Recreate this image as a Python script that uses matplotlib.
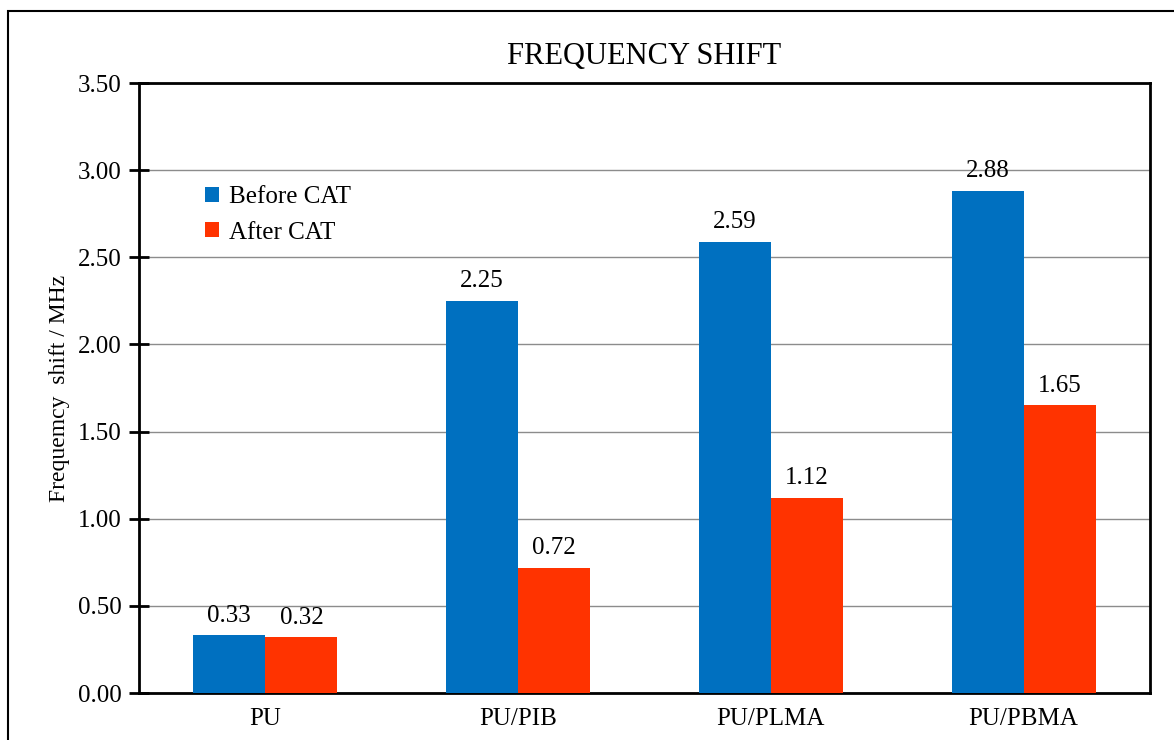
import matplotlib
matplotlib.use("Agg")
import matplotlib.pyplot as plt
from matplotlib.patches import Rectangle, Patch
import numpy as np

plt.rcParams['font.family'] = ['Liberation Serif', 'DejaVu Serif']

categories = ["PU", "PU/PIB", "PU/PLMA", "PU/PBMA"]
before_cat = [0.33, 2.25, 2.59, 2.88]
after_cat = [0.32, 0.72, 1.12, 1.65]
series_names = ["Before CAT", "After CAT"]
yticks = [0.00, 0.50, 1.00, 1.50, 2.00, 2.50, 3.00, 3.50]

blue = "#0070C0"
red = "#FF3300"

fig = plt.figure(figsize=(11.74, 7.40), dpi=100)
ax = fig.add_axes([139/1174, 1 - 693/740, (1150 - 139)/1174, (693 - 83)/740])

x = np.arange(len(categories))
w = 0.285
b1 = ax.bar(x - w/2, before_cat, width=w, color=blue, zorder=3)
b2 = ax.bar(x + w/2, after_cat, width=w, color=red, zorder=3)

for bars, vals in ((b1, before_cat), (b2, after_cat)):
    for r, v in zip(bars, vals):
        ax.text(r.get_x() + r.get_width()/2, v + 0.05, f"{v:.2f}",
                ha="center", va="bottom", fontsize=18, zorder=4)

ax.set_xlim(-0.5, len(categories) - 0.5)
ax.set_ylim(0, 3.5)
ax.set_yticks(yticks)
ax.set_yticklabels([f"{t:.2f}" for t in yticks], fontsize=18)
ax.set_xticks(x)
ax.set_xticklabels(categories, fontsize=18)
ax.tick_params(axis="x", length=0, pad=11)
ax.tick_params(axis="y", direction="inout", length=15, width=2, pad=5)
ax.yaxis.grid(True, color="#8c8c8c", linewidth=1, zorder=0)
ax.set_axisbelow(True)
for s in ax.spines.values():
    s.set_linewidth(2)
    s.set_color("black")

ax.set_ylabel("Frequemcy  shift / MHz", fontsize=17, labelpad=6)
ax.set_title("FREQUENCY SHIFT", fontsize=22, pad=14)

handles = [Patch(facecolor=blue), Patch(facecolor=red)]
leg = ax.legend(handles, series_names, loc="upper left",
                bbox_to_anchor=(195/1174, 1 - 176/740), bbox_transform=fig.transFigure,
                frameon=False, fontsize=18, handlelength=0.55, handleheight=0.55,
                handletextpad=0.4, labelspacing=0.55, borderaxespad=0)

fig.patches.append(Rectangle((8/1174, -0.1), 1.2, 1.1 - 11/740,
                             transform=fig.transFigure, fill=False,
                             edgecolor="black", linewidth=1.5))

fig.savefig("out.png", dpi=100)
